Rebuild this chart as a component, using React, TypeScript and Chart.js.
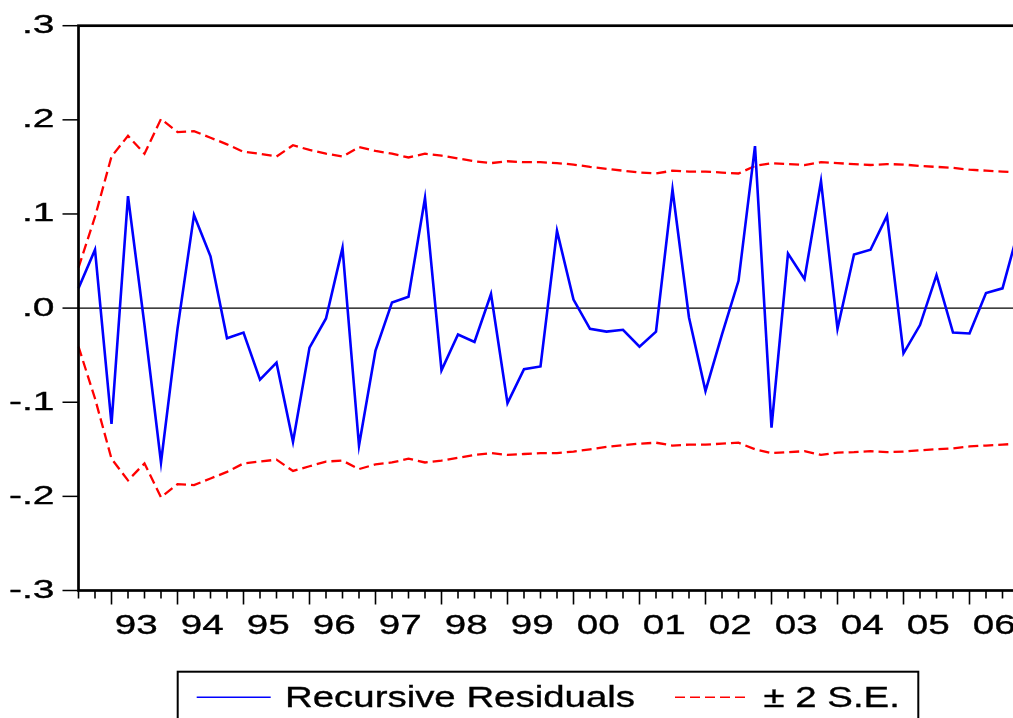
import React, { useEffect, useRef } from "react";
import { Chart, registerables } from "chart.js";

Chart.register(...registerables);

// ---------- data ----------
const firstYear = 1992;
const firstQuarter = 3;
const lastYear = 2006;

const quarterLabels: string[] = [];
for (let yr = firstYear; yr <= lastYear; yr++) {
  for (let q = 1; q <= 4; q++) {
    if (yr === firstYear && q < firstQuarter) continue;
    quarterLabels.push(`${yr}Q${q}`);
  }
}

const yearTickYears = [1993, 1994, 1995, 1996, 1997, 1998, 1999, 2000, 2001, 2002, 2003, 2004, 2005, 2006];
const yearTickLabels = ["93", "94", "95", "96", "97", "98", "99", "00", "01", "02", "03", "04", "05", "06"];

const yTickValues = [0.3, 0.2, 0.1, 0, -0.1, -0.2, -0.3];
const yTickLabels = [".3", ".2", ".1", ".0", "-.1", "-.2", "-.3"];

const recursiveResiduals = [
  0.021, 0.062, -0.123, 0.119, -0.018, -0.164, -0.022, 0.099, 0.055, -0.032,
  -0.026, -0.076, -0.058, -0.142, -0.042, -0.011, 0.064, -0.146, -0.045, 0.006,
  0.012, 0.117, -0.066, -0.028, -0.036, 0.015, -0.101, -0.065, -0.062, 0.082,
  0.009, -0.022, -0.025, -0.023, -0.041, -0.025, 0.126, -0.010, -0.088, -0.028,
  0.029, 0.172, -0.127, 0.058, 0.031, 0.135, -0.022, 0.057, 0.062, 0.098,
  -0.048, -0.018, 0.035, -0.026, -0.027, 0.016, 0.021, 0.085,
];

const upperBand = [
  0.043, 0.097, 0.161, 0.183, 0.164, 0.201, 0.187, 0.188, 0.181, 0.174,
  0.166, 0.164, 0.161, 0.173, 0.168, 0.164, 0.161, 0.171, 0.167, 0.164,
  0.160, 0.164, 0.162, 0.159, 0.156, 0.154, 0.156, 0.155, 0.155, 0.154,
  0.1525, 0.150, 0.148, 0.146, 0.144, 0.143, 0.146, 0.145, 0.145, 0.144,
  0.143, 0.151, 0.154, 0.153, 0.152, 0.155, 0.154, 0.153, 0.152, 0.153,
  0.1525, 0.151, 0.150, 0.149, 0.147, 0.146, 0.145, 0.144,
];

const lowerBand = [
  -0.041, -0.096, -0.160, -0.183, -0.165, -0.201, -0.187, -0.188, -0.181, -0.174,
  -0.165, -0.163, -0.161, -0.173, -0.168, -0.163, -0.162, -0.171, -0.166, -0.164,
  -0.160, -0.164, -0.162, -0.159, -0.156, -0.154, -0.156, -0.155, -0.154, -0.154,
  -0.1525, -0.150, -0.1475, -0.1457, -0.144, -0.143, -0.146, -0.145, -0.145, -0.144,
  -0.143, -0.150, -0.154, -0.153, -0.152, -0.156, -0.1535, -0.153, -0.152, -0.153,
  -0.1525, -0.151, -0.150, -0.149, -0.147, -0.146, -0.145, -0.144,
];

const residualLabel = "Recursive Residuals";
const bandLabel = "\u00B1 2 S.E.";

// ---------- styling ----------
const FONT = '"Liberation Sans", Arial, sans-serif';
const BLUE = "#0000FF";
const RED = "#FF0000";

function stretchedText(
  ctx: CanvasRenderingContext2D,
  text: string,
  x: number,
  y: number,
  size: number,
  sx: number,
  align: CanvasTextAlign
) {
  ctx.save();
  ctx.translate(x, y);
  ctx.scale(sx, 1);
  ctx.font = `${size}px ${FONT}`;
  ctx.fillStyle = "#000";
  ctx.strokeStyle = "#000";
  ctx.lineWidth = 0.35;
  ctx.textAlign = align;
  ctx.textBaseline = "alphabetic";
  ctx.fillText(text, 0, 0);
  ctx.strokeText(text, 0, 0);
  ctx.restore();
}

const eviewsPlugin = {
  id: "eviewsFrame",
  beforeDatasetsDraw(chart: any) {
    const { ctx, chartArea: a, scales } = chart;
    const y0 = scales.y.getPixelForValue(0);
    ctx.save();
    ctx.strokeStyle = "#000";
    ctx.lineWidth = 1.2;
    ctx.beginPath();
    ctx.moveTo(a.left, y0);
    ctx.lineTo(a.right, y0);
    ctx.stroke();
    ctx.restore();
  },
  afterDraw(chart: any) {
    const { ctx, chartArea: a, scales } = chart;
    const xs = scales.x;
    const ys = scales.y;
    ctx.save();
    ctx.strokeStyle = "#000";

    // frame
    ctx.lineWidth = 2.7;
    ctx.strokeRect(a.left, a.top, a.right - a.left, a.bottom - a.top);

    // y ticks + labels
    ctx.lineWidth = 1.5;
    yTickValues.forEach((v, i) => {
      const py = ys.getPixelForValue(v);
      ctx.beginPath();
      ctx.moveTo(a.left - 16, py);
      ctx.lineTo(a.left, py);
      ctx.stroke();
      stretchedText(ctx, yTickLabels[i], 54.5, py + 7.5, 26, 1.5, "right");
    });

    // x ticks (quarters minor, years major)
    ctx.lineWidth = 1.6;
    quarterLabels.forEach((lab, i) => {
      const px = xs.getPixelForValue(i);
      const major = lab.endsWith("Q1");
      ctx.beginPath();
      ctx.moveTo(px, a.bottom);
      ctx.lineTo(px, a.bottom + (major ? 14 : 8));
      ctx.stroke();
    });

    // year labels centered over the four quarters
    yearTickYears.forEach((yr, k) => {
      const idx = quarterLabels.indexOf(`${yr}Q1`);
      if (idx < 0) return;
      const px = xs.getPixelForValue(idx + 1.5);
      stretchedText(ctx, yearTickLabels[k], px, 634.3, 28, 1.38, "center");
    });

    // legend
    const ds = chart.data.datasets;
    ctx.lineWidth = 2;
    ctx.strokeRect(177.7, 671.7, 918.3 - 177.7, 70);

    ctx.strokeStyle = ds[0].borderColor;
    ctx.lineWidth = 1.4;
    ctx.beginPath();
    ctx.moveTo(196.7, 697.3);
    ctx.lineTo(270.7, 697.3);
    ctx.stroke();
    stretchedText(ctx, ds[0].label, 285, 706.7, 30, 1.28, "left");

    ctx.strokeStyle = ds[1].borderColor;
    ctx.setLineDash([10, 5]);
    ctx.beginPath();
    ctx.moveTo(675, 697.3);
    ctx.lineTo(750, 697.3);
    ctx.stroke();
    ctx.setLineDash([]);
    stretchedText(ctx, ds[1].label, 763.5, 706.7, 30, 1.28, "left");

    ctx.restore();
  },
};

export default function App() {
  const canvasRef = useRef<HTMLCanvasElement | null>(null);

  useEffect(() => {
    if (!canvasRef.current) return;
    const chart = new Chart(canvasRef.current, {
      type: "line",
      data: {
        labels: quarterLabels,
        datasets: [
          {
            label: residualLabel,
            data: recursiveResiduals,
            borderColor: BLUE,
            borderWidth: 2.6,
            pointRadius: 0,
            tension: 0,
            fill: false,
          },
          {
            label: bandLabel,
            data: upperBand,
            borderColor: RED,
            borderWidth: 2.3,
            borderDash: [10, 5],
            pointRadius: 0,
            tension: 0,
            fill: false,
          },
          {
            label: bandLabel,
            data: lowerBand,
            borderColor: RED,
            borderWidth: 2.3,
            borderDash: [10, 5],
            pointRadius: 0,
            tension: 0,
            fill: false,
          },
        ],
      },
      options: {
        responsive: false,
        animation: false,
        devicePixelRatio: 1,
        events: [],
        layout: { padding: { left: 78.5, right: 11, top: 25.7, bottom: 127.5 } },
        scales: {
          x: { type: "category", display: false, offset: false },
          y: { type: "linear", display: false, min: -0.3, max: 0.3 },
        },
        plugins: {
          legend: { display: false },
          tooltip: { enabled: false },
          title: { display: false },
        },
      },
      plugins: [eviewsPlugin],
    });
    return () => chart.destroy();
  }, []);

  return (
    <div
      style={{
        position: "absolute",
        left: 0,
        top: 0,
        width: 1013,
        height: 718,
        overflow: "hidden",
        background: "#fff",
      }}
    >
      <canvas
        ref={canvasRef}
        width={1030}
        height={718}
        style={{ display: "block", width: 1030, height: 718 }}
      />
    </div>
  );
}
